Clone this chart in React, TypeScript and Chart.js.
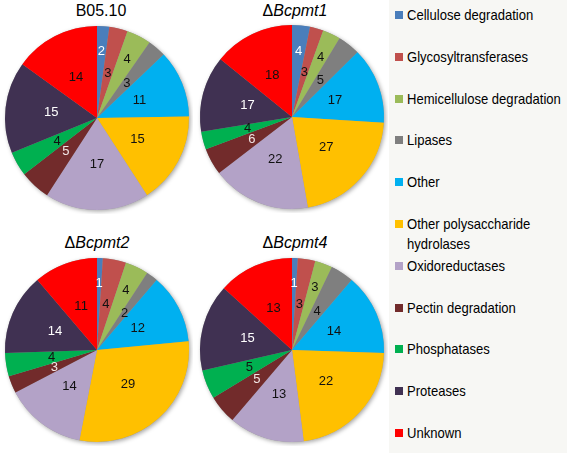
import React, { useEffect, useRef } from "react";
import { Chart, registerables } from "chart.js";

Chart.register(...registerables);

const categories = [
  "Cellulose degradation",
  "Glycosyltransferases",
  "Hemicellulose degradation",
  "Lipases",
  "Other",
  "Other polysaccharide hydrolases",
  "Oxidoreductases",
  "Pectin degradation",
  "Phosphatases",
  "Proteases",
  "Unknown",
];

const b0510Values = [2, 3, 4, 3, 11, 15, 17, 5, 4, 15, 14];
const bcpmt1Values = [4, 3, 4, 5, 17, 27, 22, 6, 4, 17, 18];
const bcpmt2Values = [1, 4, 4, 2, 12, 29, 14, 3, 4, 14, 11];
const bcpmt4Values = [1, 3, 3, 4, 14, 22, 13, 5, 5, 15, 13];

const sliceColors = [
  "#4a7ebb",
  "#c0504d",
  "#9bbb59",
  "#7f7f7f",
  "#00b0f0",
  "#ffc000",
  "#b3a2c7",
  "#722b2b",
  "#00b050",
  "#403152",
  "#ff0000",
];

const labelColors = [
  "#ffffff",
  "#111111",
  "#111111",
  "#111111",
  "#111111",
  "#111111",
  "#111111",
  "#f2e6e6",
  "#111111",
  "#ffffff",
  "#111111",
];

const FONT = "Arial, 'Liberation Sans', sans-serif";

const shadowPlugin = {
  id: "pieShadow",
  beforeDatasetsDraw(chart: any) {
    const meta = chart.getDatasetMeta(0);
    const arc = meta.data[0];
    if (!arc) return;
    const { x, y, outerRadius } = arc.getProps(["x", "y", "outerRadius"], true);
    const ctx = chart.ctx;
    ctx.save();
    ctx.shadowColor = "rgba(0,0,0,0.35)";
    ctx.shadowBlur = 4;
    ctx.shadowOffsetX = 1.5;
    ctx.shadowOffsetY = 1.5;
    ctx.beginPath();
    ctx.arc(x, y, outerRadius, 0, Math.PI * 2);
    ctx.fillStyle = "#999";
    ctx.fill();
    ctx.restore();
  },
};

const labelPlugin = {
  id: "sliceLabels",
  afterDatasetsDraw(chart: any) {
    const ctx = chart.ctx;
    const meta = chart.getDatasetMeta(0);
    const values = chart.data.datasets[0].data as number[];
    ctx.save();
    ctx.font = `13px ${FONT}`;
    ctx.textAlign = "center";
    ctx.textBaseline = "middle";
    meta.data.forEach((arc: any, i: number) => {
      const { x, y, startAngle, endAngle, outerRadius } = arc.getProps(
        ["x", "y", "startAngle", "endAngle", "outerRadius"],
        true
      );
      const mid = (startAngle + endAngle) / 2;
      const f = i === 0 || i === 2 ? 0.72 : 0.5;
      const lx = x + Math.cos(mid) * outerRadius * f;
      const ly = y + Math.sin(mid) * outerRadius * f;
      ctx.fillStyle = labelColors[i];
      ctx.fillText(String(values[i]), lx, ly);
    });
    ctx.restore();
  },
};

const R = 92;
const PAD = 4;

function PieChart({ values, cx, cy }: { values: number[]; cx: number; cy: number }) {
  const ref = useRef<HTMLCanvasElement>(null);
  const size = 2 * R + 2 * PAD;
  useEffect(() => {
    const chart = new Chart(ref.current as HTMLCanvasElement, {
      type: "pie",
      data: {
        labels: categories,
        datasets: [
          {
            data: values,
            backgroundColor: sliceColors,
            borderWidth: 0,
          },
        ],
      },
      options: {
        responsive: false,
        animation: false,
        layout: { padding: PAD },
        plugins: {
          legend: { display: false },
          tooltip: { enabled: false },
        },
      },
      plugins: [shadowPlugin, labelPlugin],
    } as any);
    return () => chart.destroy();
  }, [values]);
  return (
    <canvas
      ref={ref}
      width={size}
      height={size}
      style={{ position: "absolute", left: cx - size / 2, top: cy - size / 2, width: size, height: size }}
    />
  );
}

function Title({ cx, top, children }: { cx: number; top: number; children: React.ReactNode }) {
  return (
    <div
      style={{
        position: "absolute",
        left: cx - 80,
        width: 160,
        top,
        textAlign: "center",
        font: `16px ${FONT}`,
        lineHeight: "16px",
        color: "#000",
        whiteSpace: "nowrap",
      }}
    >
      {children}
    </div>
  );
}

export default function App() {
  useEffect(() => {
    document.body.style.margin = "0";
  }, []);
  return (
    <div
      style={{
        position: "fixed",
        left: 0,
        top: 0,
        width: 567,
        height: 453,
        background: "#ffffff",
        overflow: "hidden",
      }}
    >
      <div
        style={{
          position: "absolute",
          left: 389,
          top: 0,
          width: 178,
          height: 453,
          background: "#f7f7f4",
        }}
      />
      <PieChart values={b0510Values} cx={97} cy={118} />
      <PieChart values={bcpmt1Values} cx={292} cy={117} />
      <PieChart values={bcpmt2Values} cx={97} cy={350} />
      <PieChart values={bcpmt4Values} cx={292} cy={350} />
      <Title cx={101} top={2.5}>B05.10</Title>
      <Title cx={295} top={2.5}>
        Δ<i>Bcpmt1</i>
      </Title>
      <Title cx={97} top={234.5}>
        Δ<i>Bcpmt2</i>
      </Title>
      <Title cx={295} top={234.5}>
        Δ<i>Bcpmt4</i>
      </Title>
      {categories.map((c, i) => {
        const cy = 15 + 41.8 * i;
        return (
          <React.Fragment key={c}>
            <div
              style={{
                position: "absolute",
                left: 395,
                top: cy - 4,
                width: 8,
                height: 8,
                background: sliceColors[i],
              }}
            />
            <div
              style={{
                position: "absolute",
                left: 407,
                top: cy - 10,
                width: 180,
                font: `15px ${FONT}`,
                lineHeight: "20px",
                color: "#000",
                transform: "scaleX(0.87)",
                transformOrigin: "left top",
              }}
            >
              {c}
            </div>
          </React.Fragment>
        );
      })}
    </div>
  );
}
